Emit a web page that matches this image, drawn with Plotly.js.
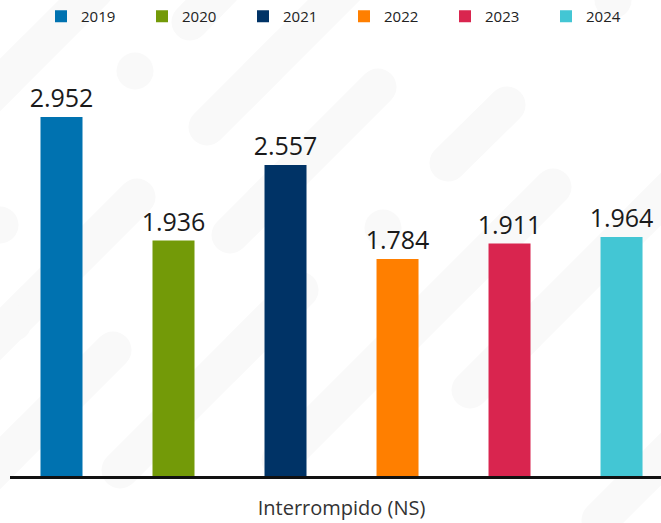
<!DOCTYPE html>
<html>
<head>
<meta charset="utf-8">
<script src="https://cdn.plot.ly/plotly-3.0.1.min.js"></script>
<style>
  html, body { margin: 0; padding: 0; background: #ffffff; }
  #wrap { position: relative; width: 661px; height: 523px; overflow: hidden; }
  #bg { position: absolute; left: 0; top: 0; }
  #chart { position: absolute; left: 0; top: 0; width: 661px; height: 523px; }
</style>
</head>
<body>
<div id="wrap">
  <svg id="bg" width="661" height="523" xmlns="http://www.w3.org/2000/svg">
    <g stroke="#f9f9f9" stroke-width="37" stroke-linecap="round" fill="none">
      <line x1="95" y1="-10" x2="-30" y2="115"/>
      <line x1="250" y1="-40" x2="190" y2="22"/>
      <line x1="360" y1="-26" x2="207" y2="127"/>
      <line x1="378" y1="87" x2="230" y2="235"/>
      <line x1="507" y1="105" x2="448" y2="163"/>
      <line x1="553" y1="187" x2="280" y2="460"/>
      <line x1="680" y1="180" x2="470" y2="390"/>
      <line x1="137" y1="197" x2="-60" y2="394"/>
      <line x1="113" y1="350" x2="-20" y2="483"/>
      <line x1="300" y1="290" x2="120" y2="470"/>
      <line x1="700" y1="420" x2="600" y2="520"/>
    </g>
    <g fill="#f9f9f9">
      <circle cx="135" cy="71" r="18.5"/>
      <circle cx="265" cy="200" r="18.5"/>
      <circle cx="383" cy="228" r="18.5"/>
      <circle cx="13" cy="323" r="18.5"/>
      <circle cx="613" cy="0" r="18.5"/>
      <circle cx="0" cy="225" r="18.5"/>
    </g>
  </svg>
  <div id="chart"></div>
</div>
<script>
// Data
const category = ["Interrompido (NS)"];
const years = ["2019", "2020", "2021", "2022", "2023", "2024"];
const values = [2952, 1936, 2557, 1784, 1911, 1964];
const colors = ["#0072b0", "#739a08", "#003366", "#ff7f00", "#d9254f", "#43c6d4"];

const traces = years.map((yr, i) => ({
  type: "bar",
  name: yr,
  x: category,
  y: [values[i]],
  marker: { color: colors[i] },
  texttemplate: "%{y:,}",
  textposition: "outside",
  constraintext: "none",
  textfont: { family: "Open Sans, sans-serif", size: 25, color: "#1a1a1a" },
  cliponaxis: false,
  hoverinfo: "name+y"
}));

const layout = {
  width: 661,
  height: 523,
  paper_bgcolor: "rgba(0,0,0,0)",
  plot_bgcolor: "rgba(0,0,0,0)",
  separators: ",.",
  margin: { l: 10, r: 0, t: 60, b: 47 },
  barmode: "group",
  bargap: 0,
  bargroupgap: 0.625,
  showlegend: true,
  legend: {
    orientation: "h",
    xref: "container",
    yref: "container",
    x: 0.062,
    xanchor: "left",
    y: 1.0,
    yanchor: "top",
    entrywidth: 56,
    entrywidthmode: "pixels",
    font: { family: "Open Sans, sans-serif", size: 15, color: "#222222" },
    bgcolor: "rgba(0,0,0,0)",
    traceorder: "normal"
  },
  xaxis: {
    type: "category",
    range: [-0.4933, 0.4754],
    showline: true,
    linecolor: "#111111",
    linewidth: 2.5,
    showgrid: false,
    zeroline: false,
    ticks: "outside",
    ticklen: 12,
    tickcolor: "rgba(0,0,0,0)",
    tickfont: { family: "Open Sans, sans-serif", size: 20, color: "#333333" },
    fixedrange: true
  },
  yaxis: {
    range: [0, 3420],
    visible: false,
    showgrid: false,
    zeroline: false,
    fixedrange: true
  }
};

Plotly.newPlot("chart", traces, layout, { displayModeBar: false, staticPlot: true });
</script>
</body>
</html>
